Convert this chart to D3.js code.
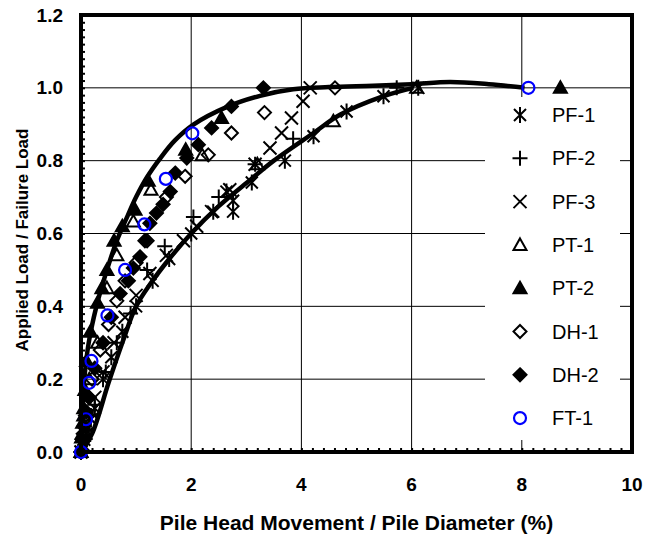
<!DOCTYPE html>
<html>
<head>
<meta charset="utf-8">
<script src="https://cdn.jsdelivr.net/npm/d3@7"></script>
<style>
  body { margin:0; background:#fff; }
  text { font-family: Arial, "Liberation Sans", sans-serif; fill:#000; }
</style>
</head>
<body>
<div id="container"></div>
<script>
/* DATA (x = movement / diameter %, y = load ratio) */
const seriesNames = ["PF-1","PF-2","PF-3","PT-1","PT-2","DH-1","DH-2","FT-1"]

const pf1 = [[0,0],[0.04,0.02],[0.1,0.05],[0.18,0.09],[0.25,0.12],[0.4,0.2],[0.55,0.26],[0.75,0.33],[1.0,0.4],[1.3,0.47],[1.6,0.53],[2.0,0.6],[2.4,0.66],[2.64,0.715],[2.76,0.66],[2.76,0.69],[3.1,0.74],[3.7,0.8],[4.22,0.867],[4.82,0.935],[5.49,0.977],[6.12,1.0]]
const pf2 = [[0,0],[0.05,0.03],[0.1,0.06],[0.18,0.1],[0.25,0.13],[0.45,0.22],[0.65,0.3],[0.9,0.38],[1.2,0.5],[1.52,0.565],[2.04,0.645],[2.5,0.7],[3.16,0.79],[3.85,0.86],[5.73,1.0]]
const pf3 = [[0,0],[0.05,0.035],[0.1,0.07],[0.18,0.11],[0.25,0.15],[0.4,0.22],[0.6,0.3],[0.8,0.37],[1.0,0.43],[1.25,0.49],[1.55,0.54],[1.86,0.58],[2.1,0.62],[2.37,0.66],[2.7,0.72],[3.16,0.79],[3.43,0.835],[3.64,0.876],[3.82,0.917],[4.03,0.963],[4.16,1.0]]
const pt1 = [[0,0],[0.02,0.05],[0.05,0.1],[0.15,0.2],[0.3,0.3],[0.47,0.45],[0.65,0.54],[0.95,0.633],[1.27,0.72],[2.2,0.815],[3.2,0.79],[4.58,0.908],[6.09,1.0]]
const pt2 = [[0,0],[0.01,0.04],[0.03,0.08],[0.05,0.12],[0.07,0.17],[0.1,0.25],[0.17,0.33],[0.3,0.41],[0.38,0.45],[0.47,0.5],[0.6,0.58],[0.75,0.62],[0.98,0.665],[1.22,0.745],[1.9,0.83],[2.55,0.917],[8.7,1.0]]
const dh1 = [[0,0],[0.04,0.05],[0.08,0.1],[0.14,0.15],[0.2,0.2],[0.35,0.28],[0.5,0.35],[0.65,0.415],[0.8,0.47],[1.0,0.52],[1.2,0.58],[1.55,0.7],[1.89,0.757],[2.31,0.816],[2.73,0.876],[3.33,0.932],[4.61,1.0]]
const dh2 = [[0,0],[0.02,0.035],[0.05,0.07],[0.1,0.11],[0.15,0.15],[0.25,0.23],[0.4,0.3],[0.55,0.37],[0.71,0.435],[0.86,0.47],[0.95,0.505],[1.07,0.536],[1.16,0.58],[1.25,0.628],[1.37,0.656],[1.49,0.68],[1.62,0.715],[1.71,0.766],[1.92,0.807],[2.13,0.844],[2.37,0.89],[2.73,0.949],[3.31,1.0]]
const ft1 = [[0,0],[0.09,0.09],[0.15,0.19],[0.19,0.25],[0.48,0.375],[0.8,0.5],[1.15,0.625],[1.54,0.75],[2.02,0.875],[8.12,1.0]]

// bounding curves
const upperBound = [[0,0],[0.02,0.1],[0.06,0.2],[0.14,0.3],[0.28,0.4],[0.45,0.49],[0.65,0.58],[0.85,0.65],[1.0,0.7],[1.2,0.755],[1.43,0.805],[1.7,0.855],[2.04,0.899],[2.64,0.947],[3.25,0.978],[3.85,0.996],[4.5,1.002],[5.3,1.006],[6.0,1.01],[6.7,1.016],[7.4,1.01],[8.05,1.0]]
const lowerBound = [[0,0],[0.2,0.05],[0.5,0.19],[0.75,0.3],[1.0,0.4],[1.25,0.46],[1.6,0.53],[2.0,0.6],[2.5,0.675],[3.07,0.747],[3.5,0.8],[4.22,0.876],[4.7,0.926],[5.49,0.977],[6.03,1.0]]

const xTicks = [0,2,4,6,8,10]
const yTicks = [0,0.2,0.4,0.6,0.8,1.0,1.2]
const xTitle = "Pile Head Movement / Pile Diameter (%)"
const yTitle = "Applied Load / Failure Load"

/* LAYOUT */
const width = 645, height = 537
const margin = {top:15, right:13, bottom:85, left:81}

const svg = d3.select("#container").append("svg")
  .attr("width", width).attr("height", height)

const xScale = d3.scaleLinear().domain([0,10]).range([margin.left, width - margin.right])
const yScale = d3.scaleLinear().domain([0,1.2]).range([height - margin.bottom, margin.top])

// gridlines
svg.append("g").selectAll("line")
  .data(xTicks.slice(1,-1)).join("line")
  .attr("x1", d => xScale(d)).attr("x2", d => xScale(d))
  .attr("y1", yScale(0)).attr("y2", yScale(1.2))
  .attr("stroke","#000").attr("stroke-width",1)
svg.append("g").selectAll("line")
  .data(yTicks.slice(1,-1)).join("line")
  .attr("x1", xScale(0)).attr("x2", xScale(10))
  .attr("y1", d => yScale(d)).attr("y2", d => yScale(d))
  .attr("stroke","#000").attr("stroke-width",1)

// legend background (hides grid behind it)
const legX = 485, legY = 97
svg.append("rect").attr("x", legX).attr("y", legY)
  .attr("width", 135).attr("height", 343).attr("fill","#fff")

// minor ticks, pointing inward
svg.append("g")
  .attr("transform", `translate(${xScale(0)},0)`)
  .call(d3.axisLeft(yScale).tickValues(d3.range(0,1.2001,0.02)).tickSize(-4).tickFormat(""))
  .call(g => g.select(".domain").remove())
  .selectAll("line").attr("stroke-width",2)
svg.append("g")
  .attr("transform", `translate(0,${yScale(0)})`)
  .call(d3.axisBottom(xScale).tickValues(d3.range(0,10.001,0.2)).tickSize(-4).tickFormat(""))
  .call(g => g.select(".domain").remove())
  .selectAll("line").attr("stroke-width",2)

// tick labels
svg.append("g").selectAll("text")
  .data(yTicks).join("text")
  .attr("x", xScale(0) - 18).attr("y", d => yScale(d))
  .attr("dy","0.35em").attr("text-anchor","end")
  .style("font-size","19px").style("font-weight","bold")
  .text(d => d3.format(".1f")(d))
svg.append("g").selectAll("text")
  .data(xTicks).join("text")
  .attr("x", d => xScale(d)).attr("y", yScale(0) + 39)
  .attr("text-anchor","middle")
  .style("font-size","19px").style("font-weight","bold")
  .text(d => d)

// axis titles
svg.append("text")
  .attr("x", (xScale(0) + xScale(10)) / 2).attr("y", 530)
  .attr("text-anchor","middle")
  .style("font-size","21px").style("font-weight","bold")
  .text(xTitle)
svg.append("text")
  .attr("transform", `translate(28,240) rotate(-90)`)
  .attr("text-anchor","middle")
  .style("font-size","17px").style("font-weight","bold")
  .text(yTitle)

// bounding curves
const lineGen = d3.line()
  .x(d => xScale(d[0])).y(d => yScale(d[1]))
  .curve(d3.curveCatmullRom.alpha(0.5))
svg.selectAll("path.bound")
  .data([upperBound, lowerBound]).join("path")
  .attr("class","bound")
  .attr("d", d => lineGen(d))
  .attr("fill","none").attr("stroke","#000").attr("stroke-width",4.5)

// marker shapes
const markers = {
  star: `M-6,-6L6,6M-6,6L6,-6M0,-8L0,8`,
  plus: `M-7.5,0L7.5,0M0,-7.5L0,7.5`,
  cross: `M-6.5,-6.5L6.5,6.5M-6.5,6.5L6.5,-6.5`,
  tri: `M0,-6.5L6.5,5L-6.5,5Z`,
  diamond: `M0,-6.5L6.5,0L0,6.5L-6.5,0Z`
}
const seriesStyle = [
  {data: pf1, shape: "star", fill: "none", stroke: "#000"},
  {data: pf2, shape: "plus", fill: "none", stroke: "#000"},
  {data: pf3, shape: "cross", fill: "none", stroke: "#000"},
  {data: pt1, shape: "tri", fill: "none", stroke: "#000"},
  {data: pt2, shape: "tri", fill: "#000", stroke: "#000"},
  {data: dh1, shape: "diamond", fill: "none", stroke: "#000"},
  {data: dh2, shape: "diamond", fill: "#000", stroke: "#000"},
  {data: ft1, shape: "circle", fill: "none", stroke: "#0000ff"}
]

function drawMarker(sel, s) {
  if (s.shape === "circle") {
    sel.append("circle").attr("r", 6)
      .attr("fill", s.fill).attr("stroke", s.stroke).attr("stroke-width", 2.2)
  } else {
    sel.append("path").attr("d", markers[s.shape])
      .attr("fill", s.fill).attr("stroke", s.stroke).attr("stroke-width", 2)
      .attr("stroke-linejoin","miter")
  }
}

seriesStyle.forEach(s => {
  svg.append("g").selectAll("g")
    .data(s.data).join("g")
    .attr("transform", d => `translate(${xScale(d[0])},${yScale(d[1])})`)
    .each(function() { drawMarker(d3.select(this), s) })
})

// legend
const leg = svg.append("g").selectAll("g")
  .data(seriesStyle).join("g")
  .attr("transform", (d,i) => `translate(${legX + 35},${115 + i * 43.3})`)
leg.each(function(s) { drawMarker(d3.select(this), s) })
leg.append("text")
  .attr("x", 32).attr("dy","0.35em")
  .style("font-size","20px")
  .text((d,i) => seriesNames[i])

// plot frame (thick border)
svg.append("rect")
  .attr("x", xScale(0)).attr("y", yScale(1.2))
  .attr("width", xScale(10) - xScale(0)).attr("height", yScale(0) - yScale(1.2))
  .attr("fill","none").attr("stroke","#000").attr("stroke-width",4)
</script>
</body>
</html>
